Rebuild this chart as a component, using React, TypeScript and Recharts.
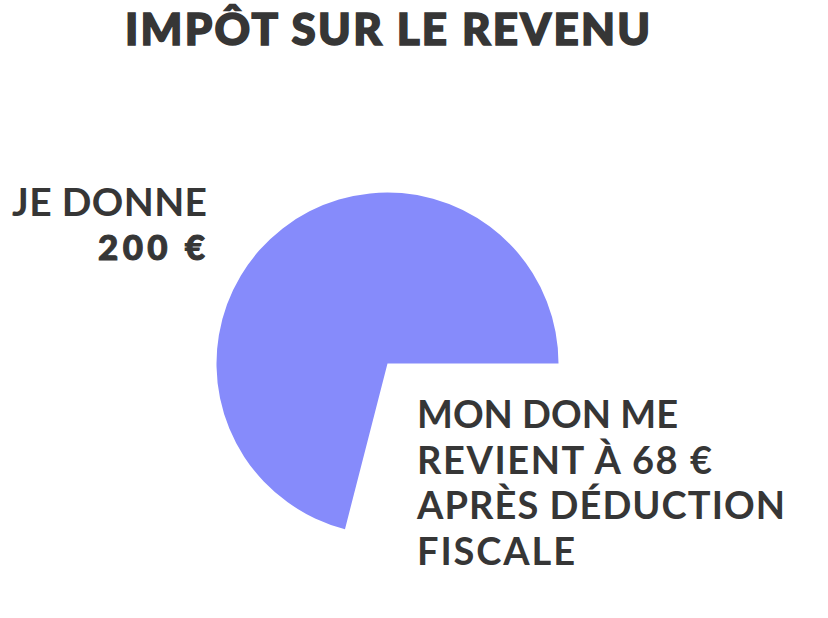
import React from 'react';
import { PieChart, Pie, Cell, Customized } from 'recharts';

const slices = ['Coût réel', 'Déduction'];
const values = [71, 29];
const sliceColors = ['#868BFB', 'transparent'];
const titleText = 'IMPÔT SUR LE REVENU';
const leftLines = ['JE DONNE', '200 €'];
const rightLines = ['MON DON ME', 'REVIENT À 68 €', 'APRÈS DÉDUCTION', 'FISCALE'];

const data = slices.map((name, i) => ({ name, value: values[i] }));

const TEXT = '#363636';
const FONT = 'Lato, "Noto Sans", sans-serif';
const rightWidths = [261, 295, 368, 158];

const Annotations = () => (
  <g>
    <text
      x={125}
      y={44.5}
      textLength={525}
      lengthAdjust="spacing"
      fill={TEXT}
      stroke={TEXT}
      strokeWidth={1.6}
      fontFamily={FONT}
      fontWeight={900}
      fontSize={44}
    >
      {titleText}
    </text>
    <text x={12} y={216} textLength={195} lengthAdjust="spacing" fill={TEXT} fontFamily={FONT} fontWeight={700} fontSize={39}>
      {leftLines[0]}
    </text>
    <text
      x={98}
      y={260}
      textLength={107}
      lengthAdjust="spacing"
      fill={TEXT}
      stroke={TEXT}
      strokeWidth={1}
      fontFamily={FONT}
      fontWeight={900}
      fontSize={35}
    >
      {leftLines[1]}
    </text>
    {rightLines.map((line, i) => (
      <text
        key={line}
        x={417}
        y={428 + i * 45.67}
        textLength={rightWidths[i]}
        lengthAdjust="spacing"
        fill={TEXT}
        fontFamily={FONT}
        fontWeight={700}
        fontSize={38}
      >
        {line}
      </text>
    ))}
  </g>
);

export default function App() {
  return (
    <div style={{ position: 'absolute', left: 0, top: 0, width: 828, height: 618, background: '#fff' }}>
      <PieChart width={828} height={618} margin={{ top: 0, right: 0, bottom: 0, left: 0 }}>
        <Pie
          data={data}
          dataKey="value"
          nameKey="name"
          cx={387.5}
          cy={363.5}
          outerRadius={171}
          innerRadius={0}
          startAngle={0}
          endAngle={360}
          stroke="none"
          isAnimationActive={false}
        >
          {data.map((d, i) => (
            <Cell key={d.name} fill={sliceColors[i]} stroke="none" />
          ))}
        </Pie>
        <Customized component={Annotations} />
      </PieChart>
    </div>
  );
}
